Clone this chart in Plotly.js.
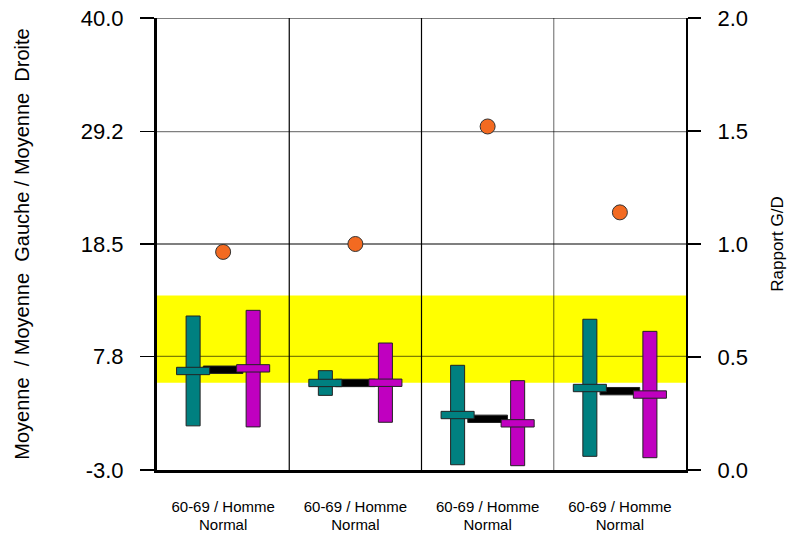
<!DOCTYPE html>
<html>
<head>
<meta charset="utf-8">
<script src="https://cdn.plot.ly/plotly-3.0.1.min.js"></script>
<style>html,body{margin:0;padding:0;background:#fff;}#chart{width:787px;height:533px;}</style>
</head>
<body>
<div id="chart"></div>
<script>
// ---- data ----
const categoryGroup  = ['60-69 / Homme', '60-69 / Homme', '60-69 / Homme', '60-69 / Homme'];
const categoryStatus = ['Normal', 'Normal', 'Normal', 'Normal'];
const gaucheMin  = [1.2, 4.1, -2.5, -1.7];
const gaucheMax  = [11.65, 6.45, 6.96, 11.34];
const gaucheMean = [6.42, 5.28, 2.23, 4.8];
const droiteMin  = [1.1, 1.54, -2.59, -1.83];
const droiteMax  = [12.19, 9.08, 5.5, 10.19];
const droiteMean = [6.67, 5.3, 1.44, 4.18];
const moyenne    = [6.54, 5.28, 1.87, 4.5];
const rapportGD  = [0.965, 1.0, 1.52, 1.14];
const normalRange = [5.3, 13.6];
const leftRange = [-3, 40];
const rightRange = [0, 2];
const leftTickVals = [-3, 7.8, 18.5, 29.2, 40];
const leftTickText = ['-3.0', '7.8', '18.5', '29.2', '40.0'];
const rightTickVals = [0, 0.5, 1, 1.5, 2];
const rightTickText = ['0.0', '0.5', '1.0', '1.5', '2.0'];

// ---- styles ----
const pos = categoryGroup.map((c, i) => i);
const OFF = 0.227, BAR_W = 0.106, MARK_W = 0.25, MID_W = 0.30, MARK_H = 0.7;
const TEAL = '#008080', MAG = '#C000C0', EDGE = '#222';
const GRAY = 'rgba(0,0,0,0.5)';

function rangeBar(xs, lo, hi, color) {
  return {type: 'bar', x: xs, base: lo, y: hi.map((h, i) => h - lo[i]), width: BAR_W,
    marker: {color: color, line: {color: EDGE, width: 1}}, hoverinfo: 'skip', xaxis: 'x', yaxis: 'y'};
}
function markBar(xs, m, w, color) {
  return {type: 'bar', x: xs, base: m.map(v => v - MARK_H / 2), y: m.map(() => MARK_H), width: w,
    marker: {color: color, line: {color: EDGE, width: 1}}, hoverinfo: 'skip', xaxis: 'x', yaxis: 'y'};
}
const xG = pos.map(p => p - OFF), xD = pos.map(p => p + OFF);

const traces = [
  rangeBar(xG, gaucheMin, gaucheMax, TEAL),
  rangeBar(xD, droiteMin, droiteMax, MAG),
  markBar(pos, moyenne, MID_W, '#000'),
  markBar(xG, gaucheMean, MARK_W, TEAL),
  markBar(xD, droiteMean, MARK_W, MAG),
  {type: 'scatter', mode: 'markers', x: pos, y: rapportGD, xaxis: 'x', yaxis: 'y2',
   marker: {size: 15, color: '#F36A21', line: {color: '#333', width: 1}}, hoverinfo: 'skip'},
  // invisible helper trace so the second-line category axis is drawn
  {type: 'scatter', mode: 'markers', x: pos, y: moyenne, xaxis: 'x2', yaxis: 'y',
   marker: {size: 2, opacity: 0}, hoverinfo: 'skip'}
];

// gridline colours alternate (black, grey) from the top tick downward
const isGray = leftTickVals.map((v, i) => (leftTickVals.length - 1 - i) % 2 === 1);

const shapes = [
  {type: 'rect', xref: 'paper', x0: 0, x1: 1, yref: 'y', y0: normalRange[0], y1: normalRange[1],
   fillcolor: '#FFFF00', line: {width: 0}, layer: 'below'}
];
leftTickVals.forEach((v, i) => {
  if (i === 0) return;
  shapes.push({type: 'line', xref: 'paper', x0: 0, x1: 1, yref: 'y', y0: v, y1: v,
    line: {color: isGray[i] ? GRAY : '#000', width: 1.2}, layer: 'below'});
});
const vColors = ['#000', '#000', GRAY];
pos.slice(1).forEach((p, i) => {
  shapes.push({type: 'line', xref: 'x', x0: p - 0.5, x1: p - 0.5, yref: 'paper', y0: 0, y1: 1,
    line: {color: vColors[i], width: 1.2}, layer: 'below'});
});

const FAM = '"Liberation Sans", Arial, sans-serif';
const layout = {
  width: 787, height: 533,
  margin: {l: 157, r: 101, t: 18, b: 63, pad: 0},
  paper_bgcolor: '#fff', plot_bgcolor: 'rgba(0,0,0,0)',
  showlegend: false, barmode: 'overlay', font: {family: FAM, color: '#000'},
  xaxis: {range: [-0.5, 3.5], tickmode: 'array', tickvals: pos, ticktext: categoryGroup,
    showgrid: false, zeroline: false, showline: true, linecolor: '#000', linewidth: 3,
    ticks: '', ticklabelstandoff: 21, tickfont: {size: 15, family: FAM, color: '#000'}},
  xaxis2: {range: [-0.5, 3.5], overlaying: 'x', side: 'bottom', anchor: 'y', tickmode: 'array', tickvals: pos,
    ticktext: categoryStatus, showgrid: false, zeroline: false, showline: false,
    ticks: '', ticklabelstandoff: 44, tickfont: {size: 15, family: FAM, color: '#000'}},
  yaxis: {range: leftRange, tickmode: 'array', tickvals: leftTickVals, ticktext: leftTickText,
    showgrid: false, zeroline: false, showline: true, linecolor: '#000', linewidth: 3,
    ticks: 'outside', ticklen: 14, tickcolor: '#000', tickwidth: 1.2, ticklabelstandoff: 12,
    tickfont: {size: 22, family: FAM, color: '#000'},
    title: {text: 'Moyenne\u00A0 / Moyenne\u00A0 Gauche / Moyenne\u00A0 Droite', font: {size: 20, family: FAM, color: '#000'}, standoff: 46}},
  yaxis2: {range: rightRange, overlaying: 'y', side: 'right', anchor: 'x', tickmode: 'array', tickvals: rightTickVals, ticktext: rightTickText,
    showgrid: false, zeroline: false, showline: true, linecolor: '#000', linewidth: 2,
    ticks: 'outside', ticklen: 13, tickcolor: '#000', tickwidth: 1.2, ticklabelstandoff: 12,
    tickfont: {size: 22, family: FAM, color: '#000'},
    title: {text: 'Rapport G/D', font: {size: 17, family: FAM, color: '#000'}, standoff: 24}},
  shapes: shapes
};

Plotly.newPlot('chart', traces, layout, {staticPlot: true, displayModeBar: false});
</script>
</body>
</html>
